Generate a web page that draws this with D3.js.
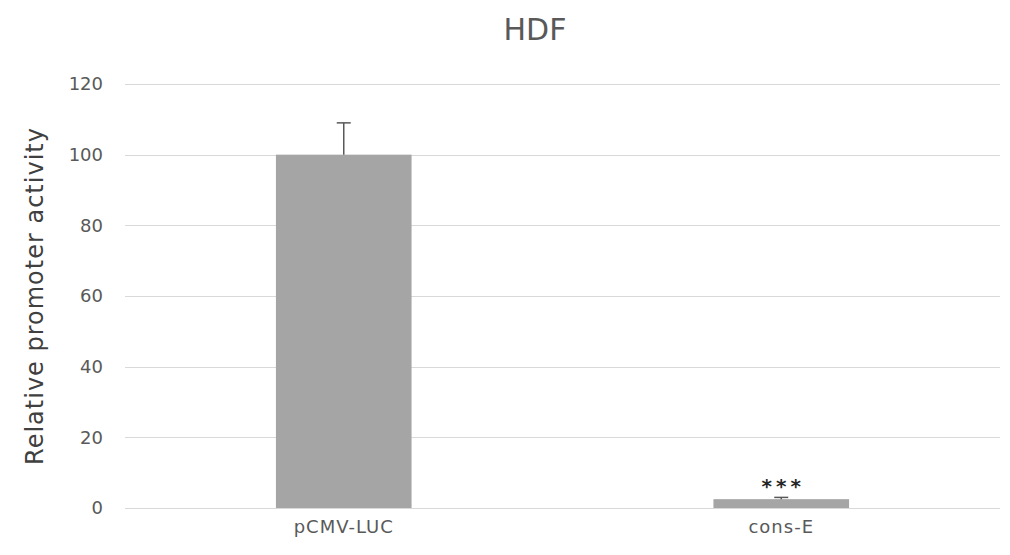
<!DOCTYPE html>
<html lang="en">
<head>
  <meta charset="utf-8">
  <script src="https://d3js.org/d3.v7.min.js"></script>
  <style>
    body { margin: 0; background: #fff; }
    text { font-family: "DejaVu Sans", "Liberation Sans", sans-serif; }
    .grid line { stroke: #d9d9d9; stroke-width: 1px; }
  </style>
</head>
<body>
<script>
  // chart data
  const categories = ["pCMV-LUC", "cons-E"];
  const values = [100, 2.5];
  const errors = [9, 0.5];
  const marks = ["", "***"];
  const yTicks = [0, 20, 40, 60, 80, 100, 120];

  const width = 1010, height = 555;
  const margin = { top: 84, right: 10, bottom: 47, left: 125 };
  const innerW = width - margin.left - margin.right;
  const innerH = height - margin.top - margin.bottom;

  const svg = d3.select("body").append("svg")
    .attr("width", width)
    .attr("height", height);

  const g = svg.append("g")
    .attr("transform", "translate(" + margin.left + "," + margin.top + ")");

  const x = d3.scaleBand()
    .domain(categories)
    .range([0, innerW])
    .paddingInner(0.69)
    .paddingOuter(0.345);

  const y = d3.scaleLinear()
    .domain([0, 120])
    .range([innerH, 0]);

  // horizontal gridlines
  g.append("g")
    .attr("class", "grid")
    .selectAll("line")
    .data(yTicks)
    .join("line")
    .attr("x1", 0)
    .attr("x2", innerW)
    .attr("y1", d => Math.round(y(d)) + 0.5)
    .attr("y2", d => Math.round(y(d)) + 0.5);

  // y tick labels
  g.append("g")
    .selectAll("text")
    .data(yTicks)
    .join("text")
    .attr("x", -22)
    .attr("y", d => y(d))
    .attr("dy", "0.35em")
    .attr("text-anchor", "end")
    .style("font-size", "18px")
    .style("fill", "#595959")
    .text(d => d);

  // bars
  g.selectAll("rect.bar")
    .data(categories)
    .join("rect")
    .attr("class", "bar")
    .attr("x", d => x(d))
    .attr("width", x.bandwidth())
    .attr("y", (d, i) => y(values[i]))
    .attr("height", (d, i) => innerH - y(values[i]))
    .attr("fill", "#a5a5a5");

  // error bars (upper only)
  const err = g.selectAll("g.err")
    .data(categories)
    .join("g")
    .attr("class", "err");
  err.append("line")
    .attr("x1", d => x(d) + x.bandwidth() / 2)
    .attr("x2", d => x(d) + x.bandwidth() / 2)
    .attr("y1", (d, i) => y(values[i]))
    .attr("y2", (d, i) => y(values[i] + errors[i]))
    .attr("stroke", "#595959")
    .attr("stroke-width", 1.5);
  err.append("line")
    .attr("x1", d => x(d) + x.bandwidth() / 2 - 7)
    .attr("x2", d => x(d) + x.bandwidth() / 2 + 7)
    .attr("y1", (d, i) => y(values[i] + errors[i]))
    .attr("y2", (d, i) => y(values[i] + errors[i]))
    .attr("stroke", "#595959")
    .attr("stroke-width", 1.5);

  // significance marks
  g.selectAll("text.sig")
    .data(categories)
    .join("text")
    .attr("class", "sig")
    .attr("x", d => x(d) + x.bandwidth() / 2 + 2)
    .attr("y", (d, i) => y(values[i] + errors[i]) - 4)
    .attr("text-anchor", "middle")
    .style("font-size", "20px")
    .style("font-weight", "bold")
    .style("letter-spacing", "4px")
    .style("fill", "#262626")
    .text((d, i) => marks[i]);

  // category labels
  g.selectAll("text.cat")
    .data(categories)
    .join("text")
    .attr("class", "cat")
    .attr("x", d => x(d) + x.bandwidth() / 2)
    .attr("y", innerH + 25)
    .attr("text-anchor", "middle")
    .style("font-size", "18px")
    .style("letter-spacing", "1px")
    .style("fill", "#595959")
    .text(d => d);

  // y axis title
  svg.append("text")
    .attr("transform", "translate(43,296) rotate(-90)")
    .attr("text-anchor", "middle")
    .style("font-size", "24px")
    .style("letter-spacing", "1px")
    .style("fill", "#404040")
    .text("Relative promoter activity");

  // chart title
  svg.append("text")
    .attr("x", 535)
    .attr("y", 40)
    .attr("text-anchor", "middle")
    .style("font-size", "30px")
    .style("fill", "#595959")
    .text("HDF");
</script>
</body>
</html>
